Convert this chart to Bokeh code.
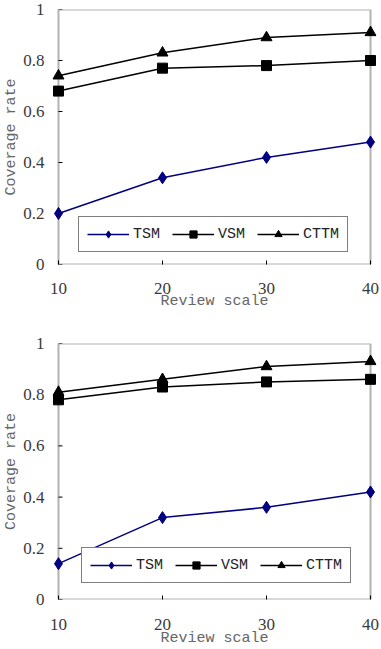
from bokeh.plotting import figure
from bokeh.layouts import column
from bokeh.models import FixedTicker, Legend, LegendItem, BoxAnnotation
from bokeh.embed import file_html
from bokeh.resources import INLINE

# Review scale on the x axis
review_scale = [10, 20, 30, 40]
x_ticks = [10, 20, 30, 40]
y_ticks = [0, 0.2, 0.4, 0.6, 0.8, 1]
y_tick_labels = ["0", "0.2", "0.4", "0.6", "0.8", "1"]

# Upper panel: coverage rate per method
tsm_upper = [0.20, 0.34, 0.42, 0.48]
vsm_upper = [0.68, 0.77, 0.78, 0.80]
cttm_upper = [0.74, 0.83, 0.89, 0.91]

# Lower panel: coverage rate per method
tsm_lower = [0.14, 0.32, 0.36, 0.42]
vsm_lower = [0.78, 0.83, 0.85, 0.86]
cttm_lower = [0.81, 0.86, 0.91, 0.93]

NAVY = "#000080"
MONO = "Liberation Mono"
SERIF = "Liberation Serif"

BOX_W = 313      # pixel width of the axes box
SIDE_PAD = 6     # room left of x=10 and right of x=40 so edge markers are not cut


def make_panel(tsm, vsm, cttm, height, border_top, border_bottom,
               legend_loc, tick_standoff, label_standoff):
    x0, x1 = x_ticks[0], x_ticks[-1]
    pad = SIDE_PAD * (x1 - x0) / BOX_W
    p = figure(width=381, height=height,
               x_range=(x0 - pad, x1 + pad), y_range=(y_ticks[0], y_ticks[-1]),
               output_backend="svg", toolbar_location=None,
               min_border_left=57 - SIDE_PAD, min_border_right=11 - SIDE_PAD,
               min_border_top=border_top, min_border_bottom=border_bottom)
    p.grid.visible = False
    p.outline_line_color = None
    p.background_fill_color = "white"
    p.border_fill_color = "white"

    # axes box from x=10..40, y=0..1
    box = BoxAnnotation(left=x0, right=x1, bottom=y_ticks[0], top=y_ticks[-1],
                        fill_alpha=0, line_color="black", line_width=2,
                        level="underlay")
    p.add_layout(box)

    # x axis: ticks point into the box
    xa = p.xaxis[0]
    xa.ticker = FixedTicker(ticks=x_ticks)
    xa.axis_line_color = None
    xa.major_tick_in = 4
    xa.major_tick_out = 0
    xa.major_tick_line_width = 1
    xa.minor_tick_in = 0
    xa.minor_tick_out = 0
    xa.major_label_standoff = tick_standoff
    xa.major_label_text_font = SERIF
    xa.major_label_text_font_size = "17px"
    xa.major_label_text_color = "#3a3a3a"
    xa.axis_label = "Review scale"
    xa.axis_label_text_font = MONO
    xa.axis_label_text_font_size = "15px"
    xa.axis_label_text_font_style = "normal"
    xa.axis_label_text_color = "#666666"
    xa.axis_label_standoff = label_standoff

    # y axis: the line and ticks are drawn along the box edge
    ya = p.yaxis[0]
    ya.ticker = FixedTicker(ticks=y_ticks)
    ya.major_label_overrides = {t: s for t, s in zip(y_ticks, y_tick_labels)}
    ya.axis_line_color = None
    ya.major_tick_line_color = None
    ya.minor_tick_line_color = None
    ya.major_tick_in = 0
    ya.major_tick_out = 0
    ya.minor_tick_in = 0
    ya.minor_tick_out = 0
    ya.major_label_standoff = 14 - SIDE_PAD
    ya.major_label_text_font = SERIF
    ya.major_label_text_font_size = "17px"
    ya.major_label_text_color = "#3a3a3a"
    ya.axis_label = "Coverage rate"
    ya.axis_label_text_font = MONO
    ya.axis_label_text_font_size = "15px"
    ya.axis_label_text_font_style = "normal"
    ya.axis_label_text_color = "#666666"
    ya.axis_label_standoff = 0

    # inward y ticks on the left edge of the box
    p.ray(x=[x0] * len(y_ticks), y=y_ticks, length=4, length_units="screen",
          angle=0, line_color="black", line_width=1)

    l1 = p.line(review_scale, tsm, line_color=NAVY, line_width=1.5)
    m1 = p.scatter(review_scale, tsm, marker="diamond", size=12,
                   fill_color=NAVY, line_color=NAVY)
    l2 = p.line(review_scale, vsm, line_color="black", line_width=1.5)
    m2 = p.scatter(review_scale, vsm, marker="square", size=10,
                   fill_color="black", line_color="black")
    l3 = p.line(review_scale, cttm, line_color="black", line_width=1.5)
    m3 = p.scatter(review_scale, cttm, marker="triangle", size=11,
                   fill_color="black", line_color="black")

    legend = Legend(items=[
        LegendItem(label="TSM", renderers=[l1, m1]),
        LegendItem(label="VSM", renderers=[l2, m2]),
        LegendItem(label="CTTM", renderers=[l3, m3]),
    ], location=(legend_loc[0] + SIDE_PAD, legend_loc[1]),
        orientation="horizontal")
    legend.border_line_color = "black"
    legend.border_line_width = 1
    legend.background_fill_color = "white"
    legend.background_fill_alpha = 1
    legend.label_text_font = MONO
    legend.label_text_font_size = "15px"
    legend.label_text_color = "#222222"
    legend.glyph_width = 42
    legend.glyph_height = 18
    legend.label_standoff = 4
    legend.spacing = 12
    legend.padding = 8
    legend.margin = 0
    p.add_layout(legend, "center")
    return p


upper = make_panel(tsm_upper, vsm_upper, cttm_upper, height=320,
                   border_top=9, border_bottom=56, legend_loc=(20, 12),
                   tick_standoff=18, label_standoff=-4)
lower = make_panel(tsm_lower, vsm_lower, cttm_lower, height=329,
                   border_top=23, border_bottom=50, legend_loc=(23, 16),
                   tick_standoff=19, label_standoff=-3)

layout = column(upper, lower, spacing=0)
open("out.html", "w").write(file_html(layout, INLINE))
